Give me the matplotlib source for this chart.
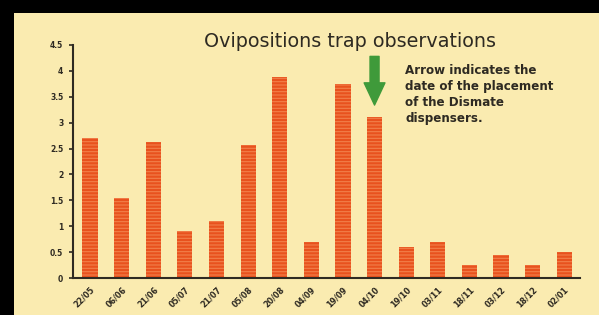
import matplotlib.pyplot as plt
import matplotlib.patches as mpatches
import numpy as np

# dates of the trap readings and mean ovipositions per trap
dates = ["22/05", "06/06", "21/06", "05/07", "21/07", "05/08", "20/08", "04/09",
         "19/09", "04/10", "19/10", "03/11", "18/11", "03/12", "18/12", "02/01"]
ovipositions = [2.7, 1.55, 2.62, 0.9, 1.1, 2.57, 3.88, 0.7,
                3.75, 3.1, 0.6, 0.7, 0.25, 0.45, 0.25, 0.5]
yticks = [0, 0.5, 1, 1.5, 2, 2.5, 3, 3.5, 4, 4.5]
ytick_labels = ["0", "0.5", "1", "1.5", "2", "2.5", "3", "3.5", "4", "4.5"]
dispenser_date = "04/10"

PANEL = "#FAEBB0"
BAR = "#E8521E"
STRIPE = "#F2804A"
GREEN = "#3F9A3A"
INK = "#2E2A22"

plt.rcParams["hatch.linewidth"] = 0.8

fig = plt.figure(figsize=(5.99, 3.15), dpi=100, facecolor="black")
fig.patches.append(mpatches.Rectangle((14 / 599, 0), 1, (315 - 13) / 315,
                                      transform=fig.transFigure, facecolor=PANEL,
                                      edgecolor="none", zorder=-10))

ax = fig.add_axes([73 / 599, 37 / 315, (580 - 73) / 599, (278 - 45) / 315])
ax.set_facecolor("none")
ax.set_zorder(5)

x = np.arange(len(dates))
ax.bar(x, ovipositions, width=0.48, color=BAR, edgecolor=STRIPE, linewidth=0,
       hatch="-----", zorder=2)

ax.set_xlim(-0.54, 15.5)
ax.set_ylim(0, 4.5)
ax.set_yticks(yticks)
ax.set_yticklabels(ytick_labels, fontsize=5.5, fontweight="bold", color=INK)
ax.set_xticks(x)
ax.set_xticklabels(dates, rotation=45, ha="right", rotation_mode="anchor",
                   fontsize=5.8, fontweight="bold", color=INK)
ax.tick_params(axis="x", length=0, pad=5)
ax.tick_params(axis="y", length=3, width=1.2, color=INK, pad=4)
for side in ["top", "right"]:
    ax.spines[side].set_visible(False)
for side in ["left", "bottom"]:
    ax.spines[side].set_linewidth(1.5)
    ax.spines[side].set_color(INK)

# green arrow above the bar of the dispenser placement
i = dates.index(dispenser_date)
ax.annotate("", xy=(i, ovipositions[i] + 0.24), xytext=(i, 4.28),
            arrowprops=dict(width=6.5, headwidth=15, headlength=16,
                            color=GREEN, shrink=0), zorder=3)

fig.text(350 / 599, 0.867, "Ovipositions trap observations", ha="center",
         va="center", fontsize=13.8, color=INK)
fig.text(405 / 599, (315 - 64) / 315,
         "Arrow indicates the\ndate of the placement\nof the Dismate\ndispensers.",
         ha="left", va="top", fontsize=8.6, fontweight="bold", color=INK,
         linespacing=1.3)

fig.savefig("out.png", dpi=100, facecolor=fig.get_facecolor())
